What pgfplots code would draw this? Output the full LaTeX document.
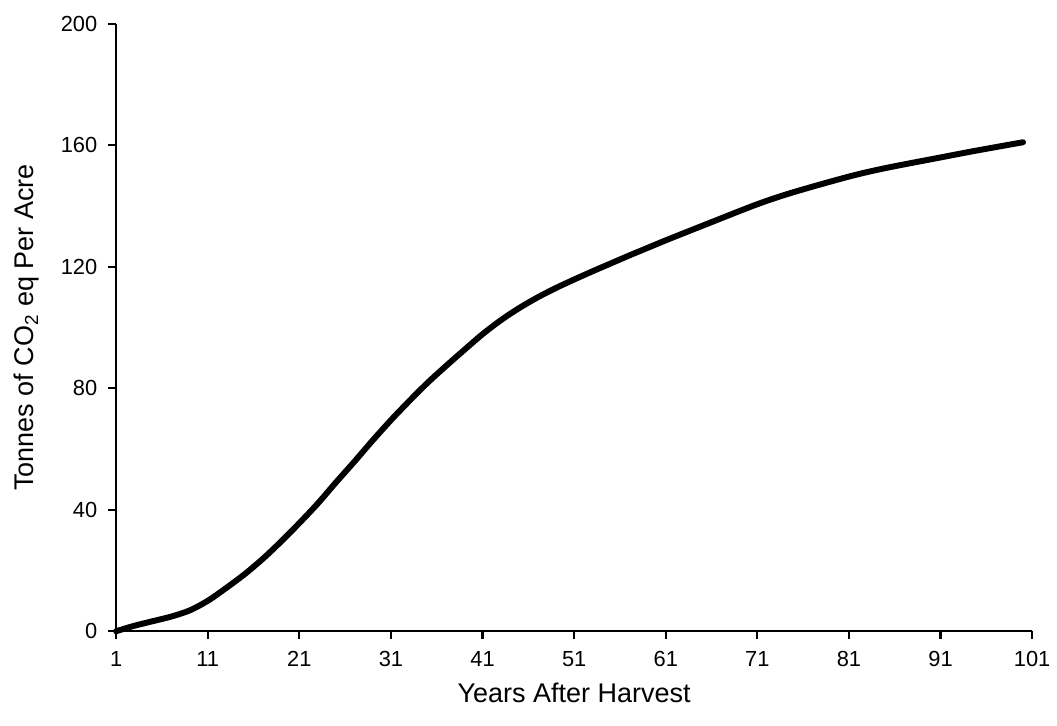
\documentclass[border=0pt]{standalone}
\usepackage{pgfplots}
\pgfplotsset{compat=1.18}
\usepackage{fontspec}
\setmainfont{Liberation Sans}
\begin{document}
\begin{tikzpicture}
\begin{axis}[
  scale only axis,
  width=461.5pt, height=306pt,
  xmin=1, xmax=101, ymin=0, ymax=200,
  axis x line*=bottom, axis y line*=left,
  axis line style={line width=1.3pt, black},
  xtick={1,11,...,101}, ytick={0,40,...,200},
  tick align=outside, major tick length=4pt,
  tick style={line width=1.1pt, black},
  /pgf/number format/assume math mode=true,
  tick label style={font=\fontsize{11}{12}\selectfont},
  xticklabel style={yshift=-2.5pt},
  yticklabel style={xshift=-2pt},
  xlabel={Years After Harvest},
  ylabel={Tonnes of CO\textsubscript{2} eq Per Acre},
  label style={font=\fontsize{13.6}{15}\selectfont},
  xlabel style={at={([yshift=-31pt]axis description cs:0.5,0)}, anchor=center},
  ylabel style={at={([xshift=-45pt]axis description cs:0,0.5)}, anchor=center, rotate=0},
  clip=false,
]
\addplot[black, line width=3pt, smooth, line cap=round] coordinates {
(1,0) (3,1.8) (5,3.3) (7,4.8) (9,6.8) (11,10.0) (13,14.2) (15,18.7) (17,23.8)
(19,29.5) (21,35.6) (23,42) (25,49) (27,55.8) (29,62.8) (31,69.5) (33,75.8)
(35,81.8) (37,87.3) (39,92.6) (41,97.8) (43,102.4) (45,106.4) (47,109.9) (49,113.0)
(51,115.8) (53,118.5) (55,121.1) (57,123.7) (59,126.2) (61,128.7) (65,133.5)
(71,140.6) (75,144.6) (81,149.7) (85,152.5) (91,156) (95,158.3) (100,161)
};
\path (rel axis cs:0,0) ++(-58.5pt,-47.5pt) coordinate (bl);
\path (rel axis cs:1,1) ++(8.5pt,12pt) coordinate (tr);
\path (bl) rectangle (tr);
\end{axis}
\end{tikzpicture}
\end{document}
